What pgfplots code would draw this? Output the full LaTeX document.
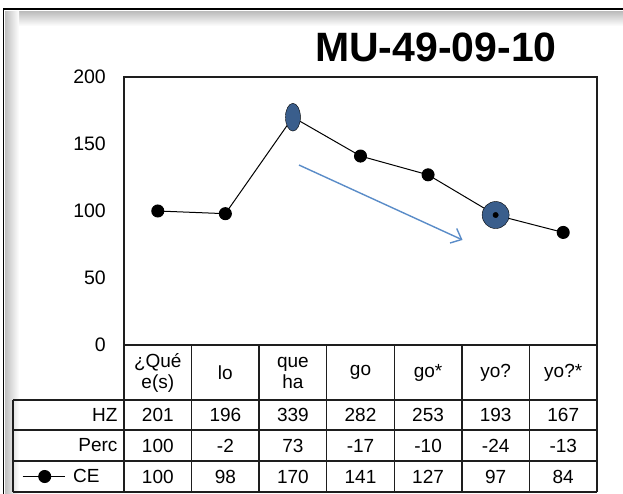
\documentclass[border=0pt]{standalone}
\usepackage{fontspec}
\setmainfont{Liberation Sans}
\usepackage{pgfplots}
\pgfplotsset{compat=1.18}
\usetikzlibrary{arrows.meta}
\definecolor{markblue}{RGB}{58,94,140}
\definecolor{arrowblue}{RGB}{90,140,200}
\definecolor{rule}{RGB}{30,30,30}

\newcommand{\tabfont}{\fontsize{19}{21}\selectfont}

\begin{document}
\begin{tikzpicture}[x=1pt,y=1pt]
\path[use as bounding box] (0,0) rectangle (623,494);
\fill[white] (0,0) rectangle (623,494);
% screenshot frame
\shade[top color=gray!50, bottom color=white] (5,482) rectangle (623,468);
\shade[left color=gray!50, right color=white] (5,0) rectangle (19,482);
\draw[line width=2pt] (3,484.5) -- (623,484.5);
\draw[line width=1.5pt] (3.5,485) -- (3.5,0);

\node[font=\fontsize{41}{41}\selectfont\bfseries] at (436,447) {MU-49-09-10};

\begin{axis}[
  at={(124pt,149pt)}, anchor=south west,
  scale only axis, width=473pt, height=268pt,
  xmin=-0.5, xmax=6.5, ymin=0, ymax=200,
  xtick=\empty, ytick={0,50,100,150,200},
  major tick length=0pt,
  axis line style={rule, line width=1.3pt},
  /pgf/number format/assume math mode=true,
  yticklabel style={font=\fontsize{19.5}{19.5}\selectfont, inner sep=0pt, xshift=-18pt},
  clip=false,
  legend style={at={(-0.2156,-0.4907)}, anchor=west, draw=none, fill=none,
    inner sep=0pt, font=\tabfont, nodes={inner sep=2pt},
    /tikz/every odd column/.append style={column sep=6pt}},
  legend image code/.code={\draw[mark repeat=2,mark phase=2,#1]
    plot coordinates {(0pt,0pt) (22pt,0pt) (42pt,0pt)};},
]
\addplot[black, line width=1pt, mark=*, mark size=6pt,
  mark options={solid, fill=black}]
  coordinates {(0,100) (1,98) (2,170) (3,141) (4,127) (5,97) (6,84)};
\addlegendentry{CE}
% highlighted points
\addplot[forget plot, only marks, mark=*, mark size=7.5pt,
  mark options={fill=markblue, draw=none, yscale=1.85}]
  coordinates {(2,170)};
\addplot[forget plot, only marks, mark=*, mark size=13.5pt,
  mark options={fill=markblue, draw=none}]
  coordinates {(5,97)};
\addplot[forget plot, only marks, mark=*, mark size=2.7pt,
  mark options={fill=black, draw=none}]
  coordinates {(5,97)};
\draw[arrowblue, line width=1.4pt, -{Straight Barb[length=9pt,width=16pt]}]
  (axis cs:2.09,134.3) -- (axis cs:4.51,78.4);
\end{axis}

% data table below the axis
\foreach \k in {0,...,7} {
  \draw[rule, line width=1.3pt] ({124+\k*67.571},149) -- ({124+\k*67.571},2);
}
\draw[rule, line width=1.3pt] (13,94) -- (13,2);
\foreach \yy in {94,64,33,2} {
  \draw[rule, line width=1.3pt] (13,\yy) -- (597,\yy);
}
\foreach \lab [count=\i from 0] in {{¿Qué\\e(s)},lo,{que\\ha},go,go*,yo?,yo?*} {
  \node[font=\tabfont, align=center] at ({157.8+\i*67.571},121.5) {\lab};
}
\node[font=\tabfont, anchor=east] at (121,79) {HZ};
\node[font=\tabfont, anchor=east] at (121,48.5) {Perc};
\foreach \v [count=\i from 0] in {201,196,339,282,253,193,167} {
  \node[font=\tabfont] at ({157.8+\i*67.571},79) {\v};
}
\foreach \v [count=\i from 0] in {100,-2,73,-17,-10,-24,-13} {
  \node[font=\tabfont] at ({157.8+\i*67.571},48.5) {\v};
}
\foreach \v [count=\i from 0] in {100,98,170,141,127,97,84} {
  \node[font=\tabfont] at ({157.8+\i*67.571},17.5) {\v};
}
\end{tikzpicture}
\end{document}
